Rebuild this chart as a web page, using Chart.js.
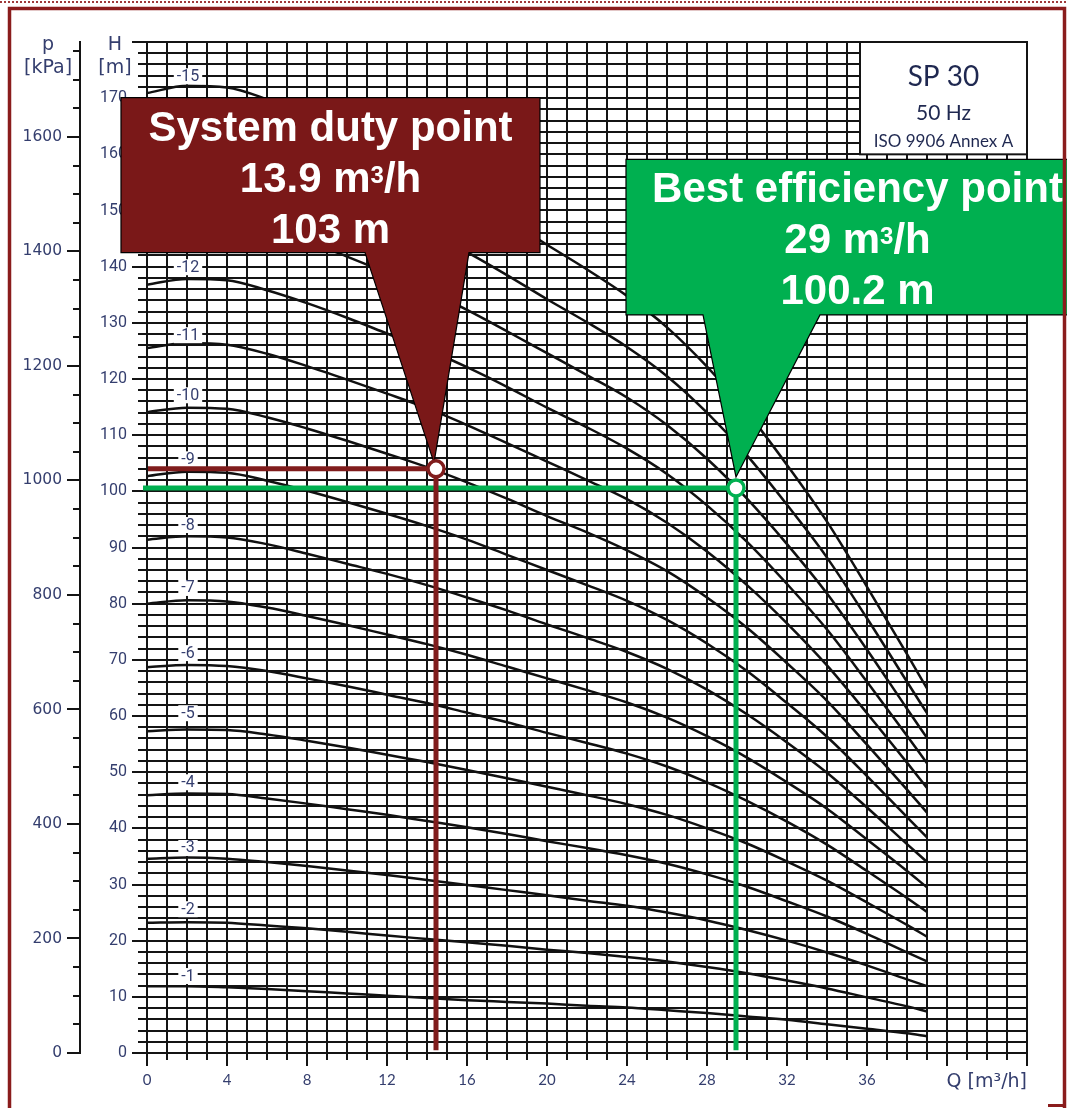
<!DOCTYPE html>
<html><head><meta charset="utf-8">
<script src="https://cdn.jsdelivr.net/npm/chart.js@4.4.1/dist/chart.umd.min.js"></script>
<style>html,body{margin:0;padding:0;background:#fff;}canvas{display:block;}</style>
</head><body>
<canvas id="c" width="1067" height="1108" style="width:1067px;height:1108px"></canvas>
<script>
// ---------------- DATA ----------------
const flowQ = [0,2,4,6,8,10,12,14,16,18,20,22,24,26,28,30,32,34,36,38,39];
const head1  = [11.9,11.9,11.7,11.4,11.0,10.6,10.2,9.8,9.4,9.1,8.8,8.4,8.1,7.6,7.1,6.5,5.9,5.1,4.3,3.5,3.0];
const head2  = [23.2,23.3,23.2,22.7,22.2,21.6,20.9,20.3,19.7,19.1,18.4,17.8,17.1,16.3,15.3,14.2,12.9,11.5,9.9,8.3,7.4];
const head3  = [34.6,34.8,34.6,34.0,33.3,32.5,31.7,30.8,29.9,29.0,28.1,27.1,26.2,25.0,23.6,21.9,20.0,17.9,15.6,13.1,11.9];
const head4  = [45.9,46.2,46.1,45.3,44.4,43.4,42.4,41.3,40.2,39.0,37.7,36.5,35.2,33.7,31.8,29.6,27.0,24.3,21.2,17.9,16.3];
const head5  = [57.3,57.6,57.5,56.7,55.6,54.4,53.1,51.8,50.4,48.9,47.4,45.9,44.3,42.4,40.0,37.3,34.1,30.7,26.8,22.8,20.7];
const head6  = [68.7,69.1,68.9,68.0,66.7,65.3,63.8,62.3,60.6,58.9,57.0,55.2,53.3,51.0,48.2,44.9,41.2,37.1,32.4,27.6,25.1];
const head7  = [80.0,80.6,80.4,79.3,77.8,76.2,74.5,72.8,70.9,68.8,66.7,64.6,62.4,59.7,56.4,52.6,48.2,43.5,38.0,32.4,29.5];
const head8  = [91.4,92.0,91.8,90.6,88.9,87.1,85.3,83.3,81.1,78.8,76.3,73.9,71.4,68.4,64.7,60.3,55.3,49.9,43.7,37.2,34.0];
const head9  = [102.7,103.5,103.3,101.9,100.1,98.1,96.0,93.8,91.4,88.7,86.0,83.3,80.5,77.1,72.9,68.0,62.3,56.3,49.3,42.0,38.4];
const head10 = [114.1,114.9,114.7,113.2,111.2,109.0,106.7,104.3,101.6,98.7,95.6,92.7,89.5,85.8,81.1,75.7,69.4,62.7,54.9,46.9,42.8];
const head11 = [125.5,126.4,126.1,124.5,122.3,119.9,117.4,114.8,111.8,108.6,105.3,102.0,98.6,94.4,89.3,83.3,76.5,69.0,60.5,51.7,47.2];
const head12 = [136.8,137.8,137.6,135.8,133.5,130.9,128.1,125.3,122.1,118.6,114.9,111.4,107.6,103.1,97.5,91.0,83.5,75.4,66.1,56.5,51.6];
const head13 = [148.2,149.2,149.0,147.1,144.6,141.8,138.9,135.8,132.3,128.5,124.6,120.7,116.7,111.8,105.8,98.7,90.6,81.8,71.8,61.3,56.1];
const head14 = [159.5,160.7,160.5,158.4,155.7,152.7,149.6,146.3,142.6,138.5,134.2,130.1,125.7,120.5,114.0,106.4,97.6,88.2,77.4,66.1,60.5];
const head15 = [170.9,172.2,171.9,169.8,166.9,163.7,160.3,156.8,152.8,148.4,143.9,139.5,134.8,129.2,122.2,114.1,104.7,94.6,83.0,71.0,64.9];
const curveHeads = [head1,head2,head3,head4,head5,head6,head7,head8,head9,head10,head11,head12,head13,head14,head15];
const curveNames = ['-1','-2','-3','-4','-5','-6','-7','-8','-9','-10','-11','-12','-13','-14','-15'];
const curveLabelH = [13.7,25.6,36.5,48.2,60.5,71.2,82.8,94.0,105.7,117.1,127.8,139.9,151.3,162.6,173.9];
const curveLabelQ = 2.05;

const pressureTicks = [0,200,400,600,800,1000,1200,1400,1600];
const pressureMinorStep = 50;
const headTicksStep = 10, headMinorStep = 2;
const flowTicksStep = 4, flowMinorStep = 1;

const dutyQ = 14.45, dutyH = 104.0;
const bepQ = 29.45, bepH = 100.6;
const dutyLineStartQ = 0.05, bepLineStartQ = -0.2, refLineEndH = 0.5;

const Q_MAX = 44, H_MAX = 180, KPA_PER_M = 9.81;
const P_MAX = H_MAX * KPA_PER_M;
const qLabelMax = 36, hLabelMax = 170;

const dutyLines = [['System duty point'], ['13.9 m', '^3', '/h'], ['103 m']];
const bepLines = [['Best efficiency point'], ['29 m', '^3', '/h'], ['100.2 m']];
const infoLines = ['SP 30', '50 Hz', 'ISO 9906 Annex A'];

// ---------------- STYLE ----------------
const LABEL_COLOR = '#343e6e';
const GRID = '#141414';
const RED = '#7a1818';
const RED_LINE = '#801c1c';
const GREEN = '#00b050';
const FRAME = '#8a1c1c';
const tickFontH = {family: "'Liberation Sans Narrow', 'Roboto', sans-serif", size: 16};
const tickFontP = {family: "'DejaVu Sans', sans-serif", size: 15.5};
const tickFontQ = {family: "Lato, sans-serif", size: 15};

const redCallout = {q0: -1.3, q1: 19.65, hTop: 170.1, hBot: 142.5, base0: 10.9, base1: 16.1,
  tipQ: dutyQ, tipH: dutyH, tipDx: -2, tipDy: -6, fill: RED, lines: dutyLines};
const greenCallout = {q0: 23.95, q1: 47.1, hTop: 159.1, hBot: 131.4, base0: 27.8, base1: 33.65,
  tipQ: bepQ, tipH: bepH, tipDx: 0, tipDy: -11, fill: GREEN, lines: bepLines};
const infoBox = {q0: 35.65, q1: 44, hTop: 180, hBot: 160};

// ---------------- DATASETS ----------------
const datasets = curveHeads.map((arr, i) => ({
  label: curveNames[i],
  data: arr.map((h, j) => ({x: flowQ[j], y: h})),
  borderColor: '#111', borderWidth: 2.5, pointRadius: 0,
  cubicInterpolationMode: 'monotone', fill: false, order: 1
}));
function refLine(label, q0, q, h, color) {
  return {label, data: [{x: q0, y: h}, {x: q, y: h}, {x: q, y: refLineEndH}],
    borderColor: color, borderWidth: 5, tension: 0, fill: false, clip: false, order: 0, isRef: true,
    pointRadius: c => c.dataIndex === 1 ? 8 : 0, pointHoverRadius: 0,
    pointBorderColor: color, pointBackgroundColor: '#fff', pointBorderWidth: 3.5};
}
datasets.push(refLine('duty', dutyLineStartQ, dutyQ, dutyH, RED_LINE));
datasets.push(refLine('bep', bepLineStartQ, bepQ, bepH, GREEN));

// ---------------- PLUGIN ----------------
let overlayDone = false;
function drawCallout(chart, cfg) {
  const ctx = chart.ctx, xs = chart.scales.x, ys = chart.scales.y;
  const L = xs.getPixelForValue(cfg.q0), R = xs.getPixelForValue(cfg.q1);
  const T = ys.getPixelForValue(cfg.hTop), B = ys.getPixelForValue(cfg.hBot);
  const b0 = xs.getPixelForValue(cfg.base0), b1 = xs.getPixelForValue(cfg.base1);
  const tx = xs.getPixelForValue(cfg.tipQ) + cfg.tipDx, ty = ys.getPixelForValue(cfg.tipH) + cfg.tipDy;
  ctx.save();
  ctx.beginPath();
  ctx.moveTo(L, T); ctx.lineTo(R, T); ctx.lineTo(R, B); ctx.lineTo(b1, B);
  ctx.lineTo(tx, ty); ctx.lineTo(b0, B); ctx.lineTo(L, B); ctx.closePath();
  ctx.fillStyle = cfg.fill; ctx.fill();
  ctx.lineWidth = 1.2; ctx.strokeStyle = '#000'; ctx.lineJoin = 'miter'; ctx.stroke();
  const cx = (L + R) / 2;
  const big = "bold 42px 'Liberation Sans', Arial, sans-serif";
  const small = "bold 24px 'Liberation Sans', Arial, sans-serif";
  ctx.fillStyle = '#fff'; ctx.textBaseline = 'alphabetic'; ctx.textAlign = 'left';
  cfg.lines.forEach((segs, i) => {
    const base = T + 43 + i * 51;
    let total = 0;
    const ws = segs.map(s => { const sup = s.startsWith('^'); ctx.font = sup ? small : big; const w = ctx.measureText(sup ? s.slice(1) : s).width; total += w; return w; });
    let x = cx - total / 2;
    segs.forEach((s, k) => {
      const sup = s.startsWith('^');
      ctx.font = sup ? small : big;
      ctx.fillText(sup ? s.slice(1) : s, x, sup ? base - 9 : base);
      x += ws[k];
    });
  });
  ctx.restore();
}
function drawCurveLabels(chart) {
  const ctx = chart.ctx, xs = chart.scales.x, ys = chart.scales.y;
  ctx.save();
  ctx.font = "16px 'Liberation Sans Narrow', Roboto, sans-serif";
  ctx.textAlign = 'center'; ctx.textBaseline = 'middle';
  curveNames.forEach((n, i) => {
    const x = xs.getPixelForValue(curveLabelQ), y = ys.getPixelForValue(curveLabelH[i]);
    const w = ctx.measureText(n).width + 6;
    ctx.fillStyle = '#fff'; ctx.fillRect(x - w / 2, y - 8, w, 16);
    ctx.fillStyle = LABEL_COLOR; ctx.fillText(n, x, y + 0.5);
  });
  ctx.restore();
}
const overlay = {
  id: 'overlay',
  beforeDatasetsDraw() { overlayDone = false; },
  beforeDatasetDraw(chart, args) {
    if (!overlayDone && chart.data.datasets[args.index].isRef) {
      overlayDone = true;
      drawCurveLabels(chart);
      drawCallout(chart, redCallout);
      drawCallout(chart, greenCallout);
    }
  },
  afterDraw(chart) {
    const ctx = chart.ctx, xs = chart.scales.x, ys = chart.scales.y;
    ctx.save();
    // info box
    const L = xs.getPixelForValue(infoBox.q0), R = xs.getPixelForValue(infoBox.q1);
    const T = ys.getPixelForValue(infoBox.hTop), B = ys.getPixelForValue(infoBox.hBot);
    ctx.fillStyle = '#fff'; ctx.fillRect(L, T, R - L, B - T);
    ctx.strokeStyle = GRID; ctx.lineWidth = 2; ctx.strokeRect(L, T, R - L, B - T);
    const cx = (L + R) / 2;
    ctx.fillStyle = '#1f2850'; ctx.textAlign = 'center'; ctx.textBaseline = 'middle';
    ctx.font = "28px Lato, sans-serif"; ctx.fillText(infoLines[0], cx, T + 35);
    ctx.font = "21px Lato, sans-serif"; ctx.fillText(infoLines[1], cx, T + 71);
    ctx.font = "17px Lato, sans-serif"; ctx.fillText(infoLines[2], cx, T + 100);
    // axis titles
    ctx.fillStyle = LABEL_COLOR;
    ctx.font = "19px 'DejaVu Sans', sans-serif";
    ctx.fillText('p', 48, 45); ctx.fillText('[kPa]', 48, 68);
    ctx.fillText('H', 115, 45); ctx.fillText('[m]', 115, 68);
    ctx.textAlign = 'right';
    ctx.font = "19px 'DejaVu Sans', sans-serif";
    ctx.fillText('Q [m\u00b3/h]', xs.right, 1082);
    // frame
    ctx.strokeStyle = FRAME; ctx.lineWidth = 3.5;
    ctx.strokeRect(9.5, 8.5, 1055, 1200);
    ctx.fillStyle = FRAME; ctx.fillRect(1048, 1104, 18, 3);
    ctx.setLineDash([2, 2]); ctx.lineWidth = 2; ctx.strokeStyle = '#a03a3a';
    ctx.beginPath(); ctx.moveTo(0, 2); ctx.lineTo(1067, 2); ctx.stroke();
    ctx.restore();
  }
};

// ---------------- CHART ----------------
const gridBase = {color: GRID, lineWidth: 2};
new Chart(document.getElementById('c'), {
  type: 'line',
  data: {datasets},
  plugins: [overlay],
  options: {
    responsive: false, animation: false, devicePixelRatio: 1,
    layout: {padding: {left: 0, right: 40, top: 42, bottom: 20}},
    plugins: {legend: {display: false}, tooltip: {enabled: false}},
    events: [],
    scales: {
      x: {type: 'linear', position: 'bottom', weight: 0, min: 0, max: Q_MAX,
        ticks: {stepSize: flowMinorStep, display: false},
        grid: {...gridBase, tickLength: 7}, border: {display: true, color: GRID, width: 2},
        afterFit: s => { s.height = 7; }},
      xLab: {type: 'linear', position: 'bottom', weight: 1, min: 0, max: Q_MAX,
        ticks: {stepSize: flowTicksStep, color: LABEL_COLOR, font: tickFontQ, padding: 5, maxRotation: 0, autoSkip: false,
          callback: v => (v <= qLabelMax ? String(v) : '')},
        grid: {...gridBase, drawOnChartArea: false, tickLength: 6}, border: {display: false},
        afterFit: s => { s.height = 28; }},
      y: {type: 'linear', position: 'left', weight: 0, min: 0, max: H_MAX,
        ticks: {stepSize: headMinorStep, display: false},
        grid: {...gridBase, tickLength: 9}, border: {display: true, color: GRID, width: 2},
        afterFit: s => { s.width = 9; }},
      yLab: {type: 'linear', position: 'left', weight: 1, min: 0, max: H_MAX,
        ticks: {stepSize: headTicksStep, color: LABEL_COLOR, font: tickFontH, padding: 5, autoSkip: false,
          callback: v => (v <= hLabelMax ? String(v) : '')},
        grid: {...gridBase, drawOnChartArea: false, tickLength: 6}, border: {display: false},
        afterFit: s => { s.width = 58; }},
      pMinor: {type: 'linear', position: 'left', weight: 2, min: 0, max: P_MAX,
        ticks: {stepSize: pressureMinorStep, display: false, includeBounds: false},
        afterBuildTicks: s => {
          const t = [];
          for (let v = 0; v <= P_MAX; v += pressureMinorStep) t.push({value: v});
          s.ticks = t;
        },
        grid: {...gridBase, drawOnChartArea: false, tickLength: 7}, border: {display: true, color: GRID, width: 2},
        afterFit: s => { s.width = 7; }},
      pMajor: {type: 'linear', position: 'left', weight: 3, min: 0, max: P_MAX,
        ticks: {includeBounds: false, color: LABEL_COLOR, font: tickFontP, padding: 5, autoSkip: false,
          callback: v => String(v)},
        afterBuildTicks: s => { s.ticks = pressureTicks.map(v => ({value: v})); },
        grid: {...gridBase, drawOnChartArea: false, tickLength: 6}, border: {display: false},
        afterFit: s => { s.width = 73; }}
    }
  }
});
</script>
</body></html>
